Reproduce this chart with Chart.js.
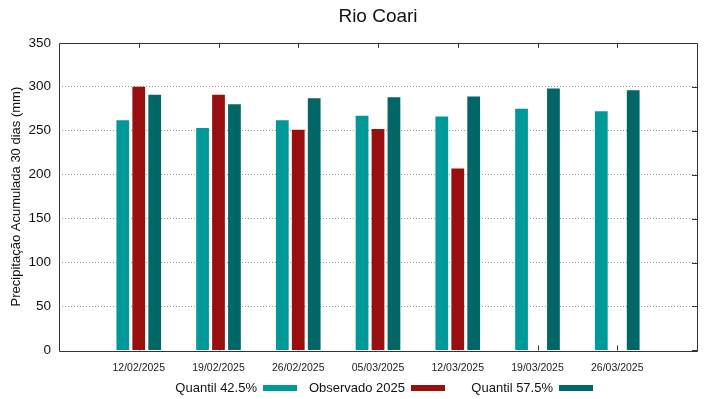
<!DOCTYPE html>
<html>
<head>
<meta charset="utf-8">
<script src="https://cdn.jsdelivr.net/npm/chart.js@4/dist/chart.umd.min.js"></script>
<style>
  html, body { margin: 0; padding: 0; background: #fff; }
  #wrap { width: 719px; height: 399px; }
</style>
</head>
<body>
<div id="wrap"><canvas id="chart" width="719" height="399"></canvas></div>
<script>
const dates = ['12/02/2025', '19/02/2025', '26/02/2025', '05/03/2025', '12/03/2025', '19/03/2025', '26/03/2025'];
const quantil425 = [262, 253, 262, 267, 266, 275, 272];
const observado2025 = [300, 291, 251, 252, 207, null, null];
const quantil575 = [291, 280, 287, 288, 289, 298, 296];
const yTicks = [0, 50, 100, 150, 200, 250, 300, 350];

const seriesNames = ['Quantil 42.5%', 'Observado 2025', 'Quantil 57.5%'];
const seriesColors = ['#009999', '#990f0f', '#006666'];

const toPoints = arr => arr.map((v, i) => ({ x: i, y: v }));

// box, mirrored inside ticks (gnuplot style)
const frame = {
  id: 'frame',
  afterDatasetsDraw(chart) {
    const { ctx, chartArea: a, scales } = chart;
    ctx.save();
    ctx.strokeStyle = '#333';
    ctx.lineWidth = 1;
    ctx.beginPath();
    dates.forEach((_, i) => {
      const x = Math.round(scales.x.getPixelForValue(i)) + 0.5;
      ctx.moveTo(x, a.top);
      ctx.lineTo(x, a.top + 5);
    });
    yTicks.forEach(v => {
      const y = Math.round(scales.y.getPixelForValue(v)) + 0.5;
      ctx.moveTo(a.right, y);
      ctx.lineTo(a.right - 5, y);
    });
    ctx.stroke();
    ctx.beginPath();
    ctx.rect(Math.round(a.left) + 0.5, Math.round(a.top) + 0.5,
      Math.round(a.right - a.left), Math.round(a.bottom - a.top));
    ctx.stroke();
    ctx.restore();
  },
  beforeDatasetsDraw(chart) {
    // bottom ticks sit behind bars
    const { ctx, chartArea: a, scales } = chart;
    ctx.save();
    ctx.strokeStyle = '#333';
    ctx.beginPath();
    dates.forEach((_, i) => {
      const x = Math.round(scales.x.getPixelForValue(i)) + 0.5;
      ctx.moveTo(x, a.bottom);
      ctx.lineTo(x, a.bottom - 5);
    });
    ctx.stroke();
    ctx.restore();
  }
};

// key: text then swatch, fixed columns
const key = {
  id: 'key',
  afterDraw(chart) {
    const { ctx, chartArea: a } = chart;
    ctx.save();
    ctx.font = '13px "Liberation Sans", Arial, sans-serif';
    ctx.fillStyle = '#111';
    ctx.textAlign = 'right';
    ctx.textBaseline = 'middle';
    const y = 388;
    chart.data.datasets.forEach((ds, i) => {
      const sx = a.left + 204 + 148 * i;
      ctx.fillText(ds.label, sx - 6, y);
      ctx.fillStyle = ds.backgroundColor;
      ctx.fillRect(sx, y - 3, 34, 6);
      ctx.fillStyle = '#111';
    });
    ctx.restore();
  }
};

new Chart(document.getElementById('chart'), {
  type: 'bar',
  data: {
    datasets: [quantil425, observado2025, quantil575].map((vals, i) => ({
      label: seriesNames[i],
      data: toPoints(vals),
      backgroundColor: seriesColors[i],
      borderWidth: 0,
      categoryPercentage: 0.6,
      barPercentage: 0.8
    }))
  },
  options: {
    responsive: false,
    animation: false,
    layout: { padding: { left: 0, right: 22, top: 0, bottom: 14 } },
    plugins: {
      legend: { display: false },
      tooltip: { enabled: false },
      title: {
        display: true,
        text: 'Rio Coari',
        fullSize: false,
        color: '#111',
        font: { family: '"Liberation Sans", Arial, sans-serif', size: 19, weight: 'normal' },
        padding: { top: 5, bottom: 15 }
      }
    },
    scales: {
      x: {
        type: 'linear',
        min: -1,
        max: 7,
        offset: false,
        grid: { display: false, drawTicks: false },
        border: { display: false },
        afterBuildTicks: s => { s.ticks = dates.map((_, i) => ({ value: i })); },
        ticks: {
          autoSkip: false,
          maxRotation: 0,
          padding: 11,
          color: '#222',
          font: { family: '"Liberation Sans", Arial, sans-serif', size: 10.5 },
          callback: v => dates[v] ?? ''
        }
      },
      y: {
        min: 0,
        max: 350,
        afterBuildTicks: s => { s.ticks = yTicks.map(v => ({ value: v })); },
        afterFit: s => { s.width = 59; },
        grid: {
          color: ctx => (ctx.tick.value === 0 || ctx.tick.value === 350) ? 'rgba(0,0,0,0)' : '#999',
          lineWidth: 1,
          drawTicks: false
        },
        border: { display: false, dash: [1, 2] },
        ticks: {
          padding: 8,
          color: '#111',
          font: { family: '"Liberation Sans", Arial, sans-serif', size: 13.5 }
        },
        title: {
          display: true,
          text: 'Precipitação Acumulada 30 dias (mm)',
          color: '#111',
          padding: { top: 9, bottom: 0 },
          font: { family: '"Liberation Sans", Arial, sans-serif', size: 13 }
        }
      }
    }
  },
  plugins: [frame, key]
});
</script>
</body>
</html>
